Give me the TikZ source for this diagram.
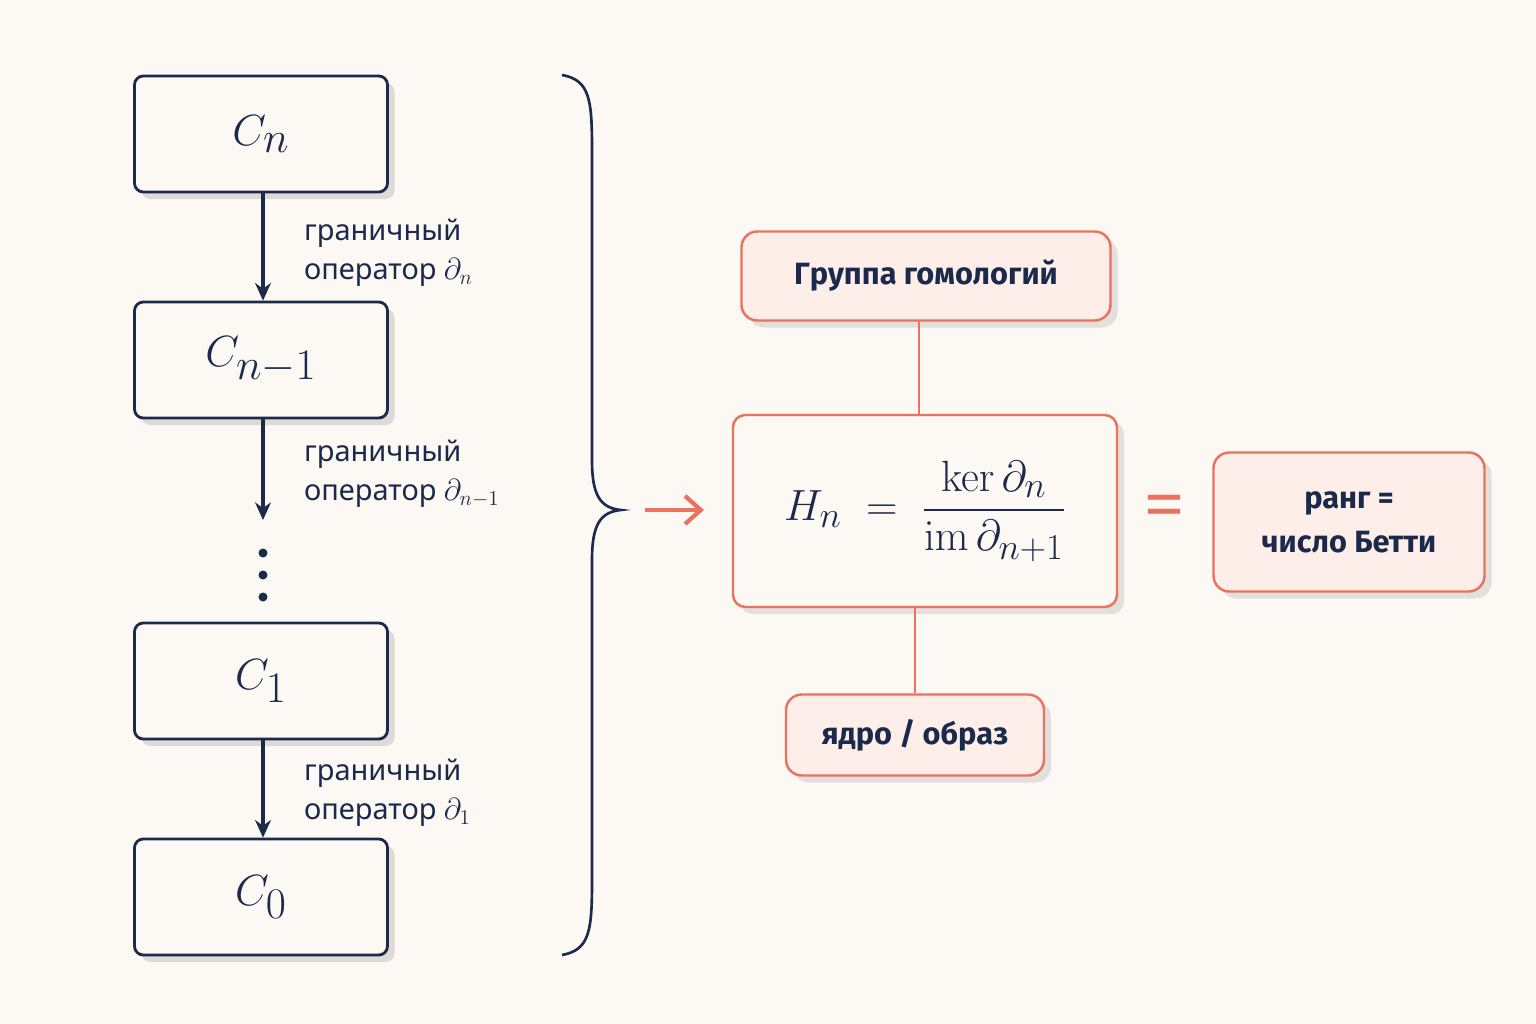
\documentclass[tikz,border=0pt]{standalone}
\usepackage{amsmath}
\usepackage[no-math]{fontspec}
\setmainfont{Noto Sans}
\newfontfamily\tagfont{Fira Sans}
\usetikzlibrary{shadows,arrows.meta}
\definecolor{navy}{HTML}{1B2A4A}
\definecolor{coral}{HTML}{E8735F}
\definecolor{blush}{HTML}{FDEEE9}
\definecolor{paper}{HTML}{FCF9F5}
\tikzset{
  chain/.style={draw=navy, line width=1.6pt, fill=paper, rounded corners=5pt,
    minimum width=253*0.02cm, minimum height=116*0.02cm,
    text=navy, font=\fontsize{33}{36}\selectfont,
    drop shadow={shadow xshift=4pt, shadow yshift=-4pt, opacity=0.12, fill=black}},
  tag/.style={draw=coral, line width=1.4pt, fill=blush, rounded corners=9pt,
    text=navy, font=\tagfont\fontsize{17.5}{25}\selectfont\bfseries, align=center,
    drop shadow={shadow xshift=4pt, shadow yshift=-4pt, opacity=0.10, fill=black}},
  bnd/.style={anchor=west, text=navy, align=left, font=\fontsize{16.5}{22}\selectfont},
  bndarrow/.style={-{Stealth[length=10pt,width=9pt]}, draw=navy, line width=2pt},
}
\begin{document}
\begin{tikzpicture}[x=0.02cm, y=-0.02cm]
  \fill[paper] (0,0) rectangle (1536,1024);
  \useasboundingbox (0,0) rectangle (1536,1024);

  % chain complex
  \node[chain] (cn)  at (261,134) {$C_n$};
  \node[chain] (cn1) at (261,360) {$C_{n-1}$};
  \node[chain] (c1)  at (261,681) {$C_1$};
  \node[chain] (c0)  at (261,897) {$C_0$};
  \coordinate (end1) at (263,520);
  % dots
  \foreach \y in {553,575,597} \fill[navy] (263,\y) circle (4.5);

  \draw[bndarrow] (cn.south -| 263,0) -- (cn1.north -| 263,0);
  \draw[bndarrow] (cn1.south -| 263,0) -- (end1);
  \draw[bndarrow] (c1.south -| 263,0) -- (c0.north -| 263,0);

  \node[bnd] (lab1) at (298,253) {граничный\\оператор $\partial_n$};
  \node[bnd] (lab2) at (298,474) {граничный\\оператор $\partial_{n-1}$};
  \node[bnd] (lab3) at (298,793) {граничный\\оператор $\partial_1$};

  % brace
  \draw[navy, line width=1.5pt] (562,75) .. controls (590,80) and (592,100) .. (592,150)
    -- (592,460) .. controls (592,495) and (600,508) .. (621,510)
    .. controls (600,512) and (592,525) .. (592,560)
    -- (592,880) .. controls (592,930) and (590,950) .. (562,955);

  % homology
  \coordinate (a0) at (645,510);
  \coordinate (a1) at (704,510);
  \draw[coral, line width=2.4pt, -{Straight Barb[length=9pt,width=16pt]}] (a0) -- (a1);

  \node[tag, minimum width=369*0.02cm, minimum height=89*0.02cm] (grp) at (926,276) {Группа гомологий};
  \node[tag, fill=paper, rounded corners=7pt, minimum width=384*0.02cm, minimum height=192*0.02cm,
        font=\fontsize{32}{36}\selectfont] (hom) at (925,511)
        {$H_n\;=\;\dfrac{\mathrm{ker}\,\partial_n}{\mathrm{im}\,\partial_{n+1}}$};
  \node[tag, minimum width=258*0.02cm, minimum height=81*0.02cm] (ker) at (915,735) {ядро / образ};
  \node[tag, minimum width=271*0.02cm, minimum height=139*0.02cm] (rank) at (1349,522) {ранг =\\число Бетти};
  \node[text=coral, font=\fontsize{40}{40}\selectfont\bfseries] (eq) at (1165,512) {=};

  \draw[coral, line width=1.6pt] (grp.south -| 919,0) -- (hom.north -| 919,0);
  \draw[coral, line width=1.6pt] (hom.south -| 915,0) -- (ker.north -| 915,0);
\end{tikzpicture}
\end{document}
